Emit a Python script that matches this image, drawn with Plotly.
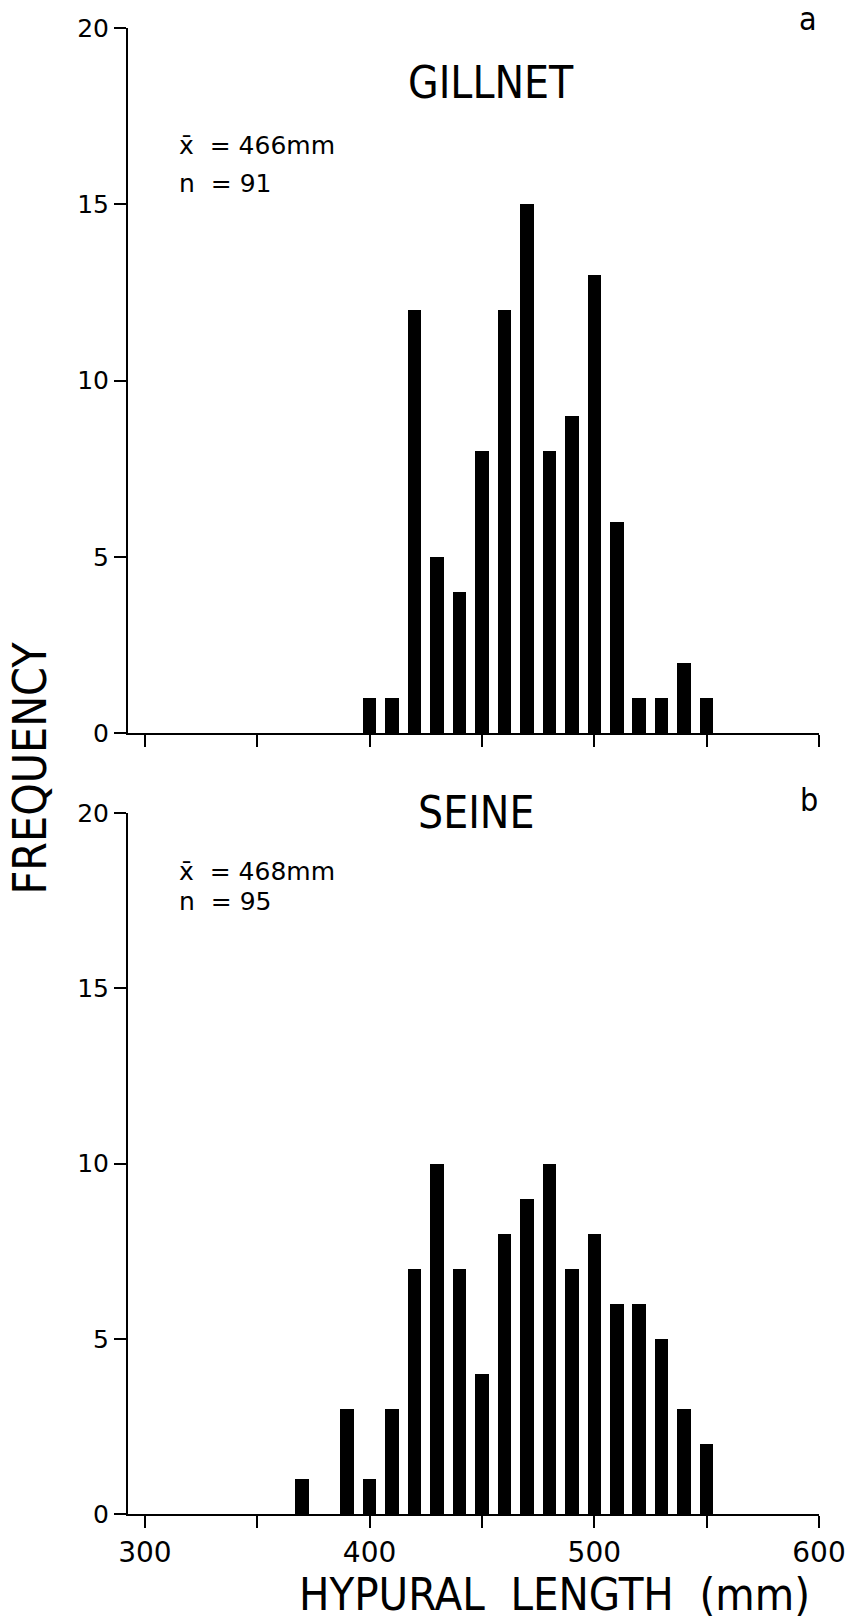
import plotly.graph_objects as go

# ---- data ----
gill_len = [400, 410, 420, 430, 440, 450, 460, 470, 480, 490, 500, 510, 520, 530, 540, 550]
gill_freq = [1, 1, 12, 5, 4, 8, 12, 15, 8, 9, 13, 6, 1, 1, 2, 1]

seine_len = [370, 390, 400, 410, 420, 430, 440, 450, 460, 470, 480, 490, 500, 510, 520, 530, 540, 550]
seine_freq = [1, 3, 1, 3, 7, 10, 7, 4, 8, 9, 10, 7, 8, 6, 6, 5, 3, 2]

x_tickvals = [300, 350, 400, 450, 500, 550, 600]
x_ticktext = ["300", "", "400", "", "500", "", "600"]
y_tickvals = [0, 5, 10, 15, 20]
y_ticktext = ["0", "5", "10", "15", "20"]

# ---- layout geometry ----
W, H = 858, 1623
L, R, T, B = 128, 35, 28, 109
PW, PH = W - L - R, H - T - B


def px(x):
    return (x - L) / PW


def py(y):
    return (H - B - y) / PH


TITLE_FONT = "Liberation Sans Narrow, DejaVu Sans Condensed, Liberation Sans, Arial"
NUM_FONT = "DejaVu Sans, Liberation Sans, Arial"

fig = go.Figure()
fig.add_trace(go.Bar(x=gill_len, y=gill_freq, width=6, marker=dict(color="black", line=dict(width=0)),
                     xaxis="x", yaxis="y", showlegend=False))
fig.add_trace(go.Bar(x=seine_len, y=seine_freq, width=6, marker=dict(color="black", line=dict(width=0)),
                     xaxis="x2", yaxis="y2", showlegend=False))

xcommon = dict(range=[292.5, 600], tickmode="array", tickvals=x_tickvals, showgrid=False, zeroline=False,
               showline=True, linecolor="black", linewidth=2, ticks="outside", ticklen=12, tickwidth=2,
               tickcolor="black", fixedrange=True)
ycommon = dict(range=[0, 20], tickmode="array", tickvals=y_tickvals, ticktext=y_ticktext, showgrid=False,
               zeroline=False, showline=True, linecolor="black", linewidth=2, ticks="outside", ticklen=12,
               tickwidth=2, tickcolor="black", tickfont=dict(family=NUM_FONT, size=25, color="black"),
               fixedrange=True)

top_bottom = py(733)
bot_top = py(813)

fig.update_layout(
    width=W, height=H,
    margin=dict(l=L, r=R, t=T, b=B, pad=0),
    paper_bgcolor="white", plot_bgcolor="white",
    bargap=0,
    xaxis=dict(domain=[0, 1], anchor="y", showticklabels=False, **xcommon),
    yaxis=dict(domain=[top_bottom, 1], anchor="x", **ycommon),
    xaxis2=dict(domain=[0, 1], anchor="y2", ticktext=x_ticktext, showticklabels=True,
                tickfont=dict(family=NUM_FONT, size=28, color="black"), **xcommon),
    yaxis2=dict(domain=[0, bot_top], anchor="x2", **ycommon),
)

annots = [
    dict(text="GILLNET", x=px(493), y=py(82), font=dict(family=TITLE_FONT, size=44)),
    dict(text="SEINE", x=px(478), y=py(813), font=dict(family=TITLE_FONT, size=44)),
    dict(text="a", x=px(812), y=py(19), font=dict(family=TITLE_FONT, size=32)),
    dict(text="b", x=px(813), y=py(800), font=dict(family=TITLE_FONT, size=32)),
    dict(text="x\u0304  = 466mm", x=px(178), y=py(145), xanchor="left", font=dict(family=NUM_FONT, size=25)),
    dict(text="n  = 91", x=px(178), y=py(184), xanchor="left", font=dict(family=NUM_FONT, size=25)),
    dict(text="x\u0304  = 468mm", x=px(178), y=py(871), xanchor="left", font=dict(family=NUM_FONT, size=25)),
    dict(text="n  = 95", x=px(178), y=py(901), xanchor="left", font=dict(family=NUM_FONT, size=25)),
    dict(text="FREQUENCY", x=px(29), y=py(768), textangle=-90, font=dict(family=TITLE_FONT, size=46)),
    dict(text="HYPURAL  LENGTH  (mm)", x=px(557), y=py(1594), font=dict(family=TITLE_FONT, size=45)),
]
for a in annots:
    a.setdefault("xanchor", "center")
    a["font"]["color"] = "black"
    fig.add_annotation(xref="paper", yref="paper", yanchor="middle", showarrow=False, borderpad=0, **a)

fig.write_html("out.html")
